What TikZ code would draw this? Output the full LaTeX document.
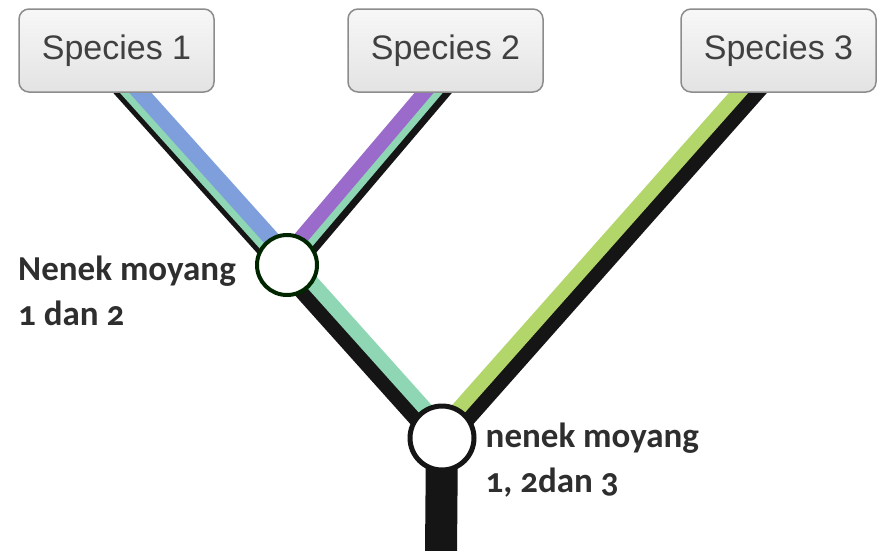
\documentclass[tikz,border=0pt]{standalone}
\usepackage{fontspec}
\setmainfont{Liberation Sans}
\newfontfamily\labelfont[Numbers=OldStyle]{Carlito}
\usetikzlibrary{calc}
\usetikzlibrary{backgrounds}
\definecolor{bandblue}{HTML}{7F9FDC}
\definecolor{bandteal}{HTML}{8ED6B4}
\definecolor{bandpurple}{HTML}{9A6BCB}
\definecolor{bandgreen}{HTML}{B3D66B}
\definecolor{bandblack}{HTML}{151515}
\definecolor{boxedge}{HTML}{8C8C8C}
\tikzset{species/.style = {draw=boxedge, line width=1.5pt, rounded corners=10pt,
                           top color=gray!6, bottom color=gray!22,
                           minimum width=195pt, minimum height=83pt, inner sep=0pt,
                           text=black!75, font=\fontsize{34}{40}\selectfont},
         ancestor/.style = {circle, fill=white, draw=bandblack, inner sep=0pt},
         labeltext/.style = {font=\labelfont\bfseries\fontsize{35}{45}\selectfont,
                             text=black!82, align=left, inner sep=0pt}}
% one coloured strip of a branch, shifted sideways from the line #1--#2
\newcommand{\branchband}[5]{\draw [line width=#4pt, color=#5] ($(#1)!#3pt!90:(#2)$) -- ($(#2)!#3pt!-90:(#1)$);}

\begin{document}
\begin{tikzpicture}[x=1pt, y=-1pt]
    \useasboundingbox (0, 0) rectangle (878, 550);

    \node [species] (s1) at (116.5, 50.5) {Species 1};
    \node [species] (s2) at (445.5, 50.5) {Species 2};
    \node [species] (s3) at (778.5, 50.5) {Species 3};

    \node [ancestor, minimum size=60pt, line width=4pt, draw=black!85!green] (anc12) at (287, 265) {};
    \node [ancestor, minimum size=64pt, line width=5pt] (anc123) at (442, 438) {};

    \coordinate (e1) at ($(s1.south) + (-4, -22)$);
    \coordinate (e2) at ($(s2.south) + (6.5, -22)$);
    \coordinate (e3) at ($(s3.south) + (-11, -22)$);
    \coordinate (root) at (441, 552);

    \begin{scope}[on background layer]
      \branchband{anc123}{root}{0}{32}{bandblack}
      \branchband{anc123}{anc12}{7}{14.5}{bandblack}
      \branchband{anc123}{anc12}{-7}{14.5}{bandteal}
      \branchband{anc123}{e3}{-7}{14.5}{bandblack}
      \branchband{anc123}{e3}{7}{14.5}{bandgreen}
      \branchband{anc12}{e1}{11.5}{5.5}{bandblack}
      \branchband{anc12}{e1}{5.5}{7.5}{bandteal}
      \branchband{anc12}{e1}{-6}{16.5}{bandblue}
      \branchband{anc12}{e2}{-10.5}{7.5}{bandblack}
      \branchband{anc12}{e2}{-3.5}{7.5}{bandteal}
      \branchband{anc12}{e2}{7}{14.5}{bandpurple}
    \end{scope}

    \node [labeltext, anchor=north east] (lab12) at ($(anc12.west) + (-19, -9)$) {Nenek moyang\\1 dan 2};
    \node [labeltext, anchor=north west] (lab123) at ($(anc123.east) + (9, -15)$) {nenek moyang\\1, 2dan 3};
  \end{tikzpicture}
\end{document}
